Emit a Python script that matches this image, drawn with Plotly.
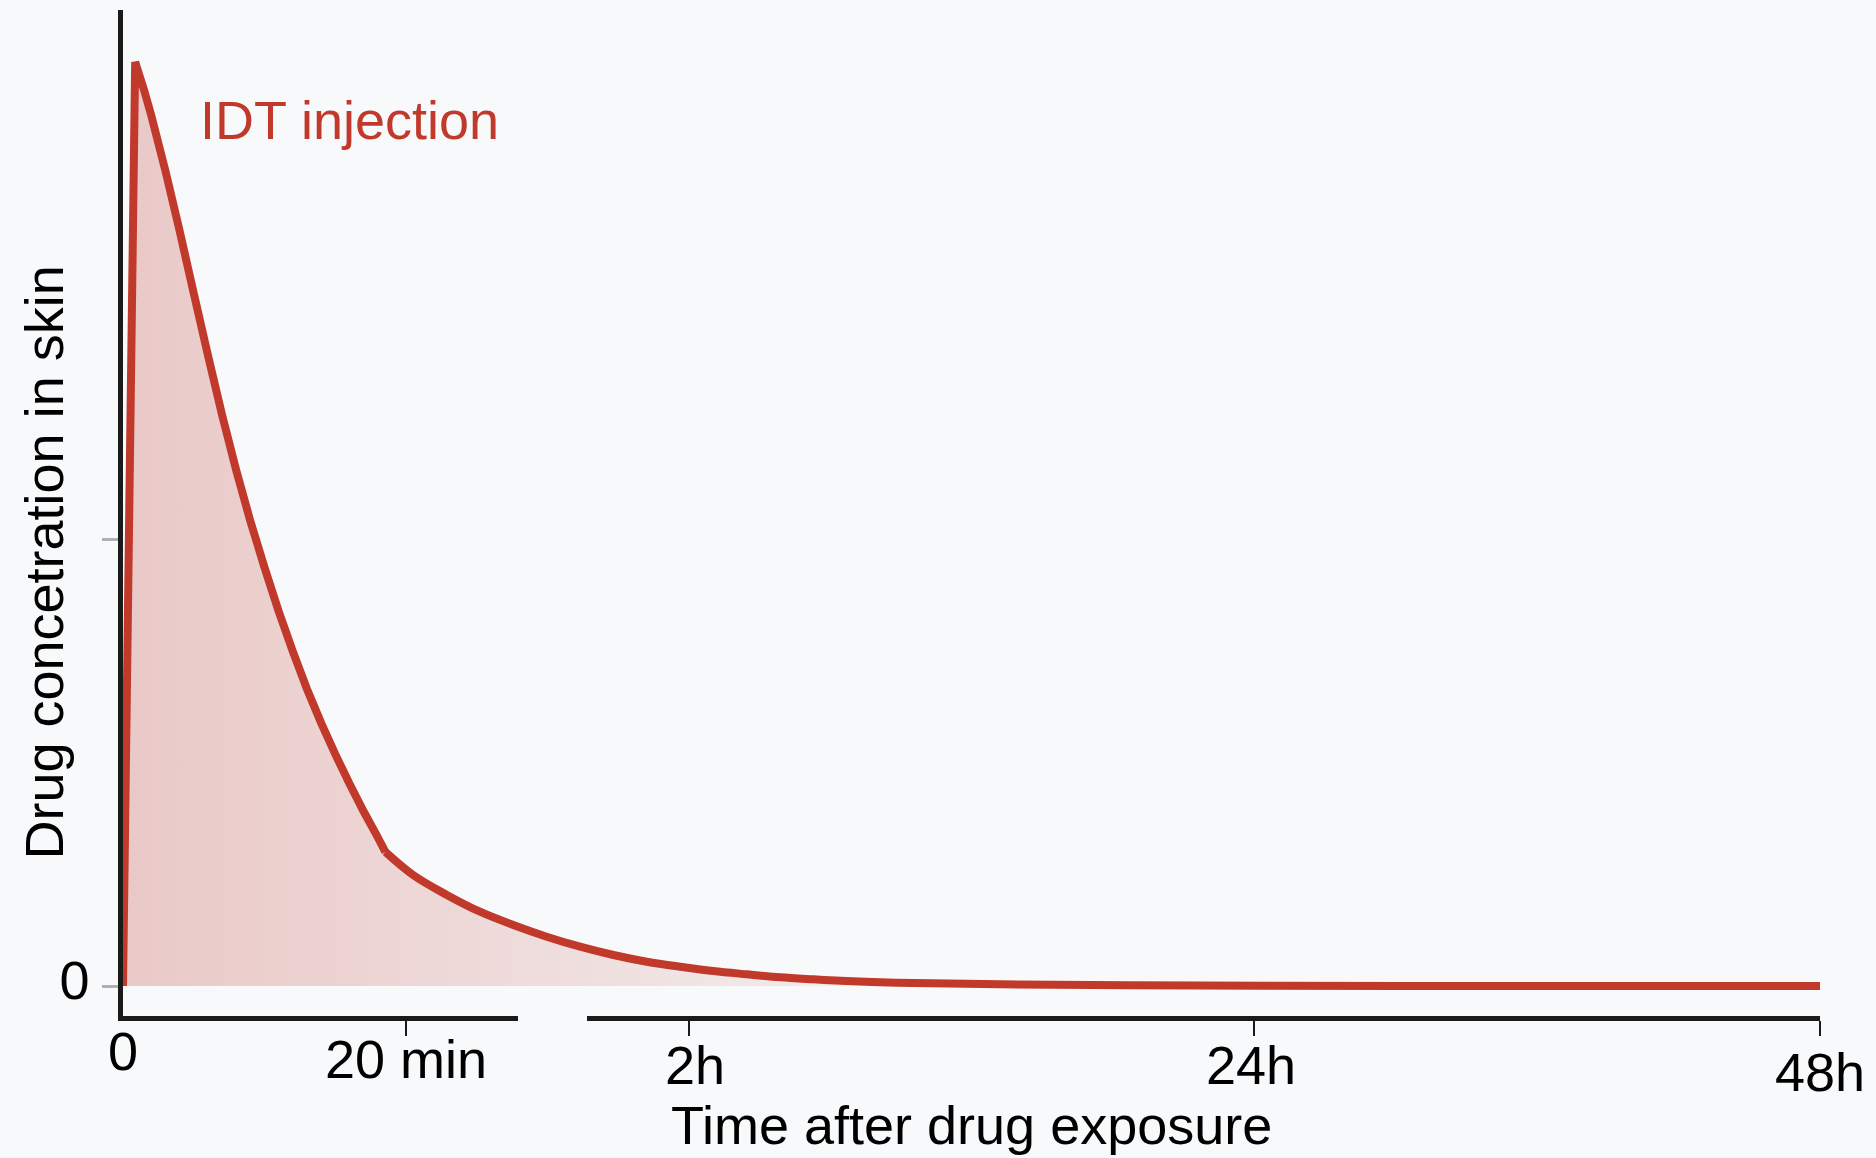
import plotly.graph_objects as go

# position on the broken time axis: one unit per tick step (0, 20 min, 2h, 24h = 4, 48h = 6)
time_pos = [0.0, 0.043, 0.075, 0.10, 0.15, 0.20, 0.25, 0.30, 0.35, 0.40,
            0.45, 0.50, 0.55, 0.60, 0.65, 0.70, 0.75, 0.80, 0.85, 0.90,
            0.928,
            1.027, 1.145, 1.262, 1.380, 1.498, 1.616, 1.734, 1.852, 1.970, 2.087,
            2.205, 2.323, 2.441, 2.559, 2.736, 3.101, 3.808, 4.516, 6.0]
conc = [0.0, 103.5, 100.3, 97.5, 91.3, 84.6, 77.6, 70.7, 64.0, 57.8,
        52.1, 46.9, 42.0, 37.5, 33.3, 29.5, 26.0, 22.7, 19.6, 16.7,
        15.0,
        12.4, 10.2, 8.32, 6.83, 5.52, 4.40, 3.47, 2.72, 2.16, 1.68,
        1.31, 0.97, 0.75, 0.56, 0.37, 0.19, 0.06, 0.0, 0.0]
KINK = 20  # index where the fast decay turns into the slow tail

tick_pos = [0, 1, 2, 4, 6]
tick_labels = ["0", "20 min", "2h", "24h", "48h"]
y_tick_vals = [0, 50]
y_tick_text = ["0", ""]

curve_name = "IDT injection"
x_title = "Time after drug exposure"
y_title = "Drug concetration in skin"

RED = "#c0392b"
AXIS = "#1a1a1a"
BG = "#f7f9fb"
FONT = "Liberation Sans, Arial, sans-serif"

X_MAX = 6
BREAK = (1.395, 1.639)
label_drop = [35, 43, 49, 49, 56]
label_nudge = [0, 0, 6, -3, 0]

fig = go.Figure()
# shaded area under the curve
fig.add_trace(go.Scatter(
    x=time_pos, y=conc,
    mode="lines",
    line=dict(width=0, color=RED),
    fill="tozeroy",
    fillgradient=dict(
        type="horizontal", start=0, stop=3.65,
        colorscale=[[0, "rgba(192,57,43,0.25)"], [1, "rgba(192,57,43,0)"]],
    ),
    hoverinfo="skip", showlegend=False,
))
# injection spike and fast decay
fig.add_trace(go.Scatter(
    x=time_pos[:KINK + 1], y=conc[:KINK + 1],
    mode="lines", name=curve_name,
    line=dict(color=RED, width=8, simplify=False),
    hoverinfo="skip", showlegend=False,
))
# slow tail
fig.add_trace(go.Scatter(
    x=time_pos[KINK:], y=conc[KINK:],
    mode="lines", name=curve_name,
    line=dict(color=RED, width=8, shape="spline", smoothing=1.0, simplify=False),
    hoverinfo="skip", showlegend=False,
))
# empty traces so the two pieces of the broken x axis get drawn
for ax in ["x2", "x3"]:
    fig.add_trace(go.Scatter(x=[], y=[], xaxis=ax, yaxis="y",
                             showlegend=False, hoverinfo="skip"))

x_part = dict(
    showline=True, linecolor=AXIS, linewidth=4.5,
    ticks="outside", ticklen=15, tickwidth=2, tickcolor=AXIS,
    showticklabels=False, showgrid=False, zeroline=False,
    anchor="y", fixedrange=True,
)

fig.update_layout(
    width=1876, height=1158,
    paper_bgcolor=BG, plot_bgcolor="rgba(0,0,0,0)",
    font=dict(family=FONT, size=54, color="black"),
    margin=dict(l=123, r=56, t=10, b=142),
    xaxis=dict(range=[0, X_MAX], domain=[0, 1], visible=False, fixedrange=True),
    xaxis2=dict(x_part, domain=[0, BREAK[0] / X_MAX], range=[0, BREAK[0]],
                tickvals=tick_pos[1:2]),
    xaxis3=dict(x_part, domain=[BREAK[1] / X_MAX, 1], range=[BREAK[1], X_MAX],
                tickvals=tick_pos[2:]),
    yaxis=dict(
        range=[-3.36, 109.32], showline=True, linecolor=AXIS, linewidth=4.5,
        ticks="outside", ticklen=16, tickwidth=3, tickcolor="#b0b0b0",
        tickvals=y_tick_vals, ticktext=y_tick_text,
        ticklabelstandoff=2, ticklabelshift=-6,
        showgrid=False, zeroline=False, fixedrange=True,
    ),
)

for pos, text, drop, nudge in zip(tick_pos, tick_labels, label_drop, label_nudge):
    fig.add_annotation(x=pos, xref="x", y=0, yref="paper", text=text,
                       showarrow=False, yanchor="middle",
                       yshift=-drop, xshift=nudge)

fig.add_annotation(x=0.2645, y=97.0, xref="x", yref="y", text=curve_name,
                   showarrow=False, xanchor="left", yanchor="middle",
                   font=dict(color=RED, size=54))
fig.add_annotation(x=0.5, y=0, xref="paper", yref="paper", text=x_title,
                   showarrow=False, yanchor="middle", yshift=-109)
fig.add_annotation(x=0, y=0.4507, xref="paper", yref="paper", text=y_title,
                   showarrow=False, textangle=-90, xanchor="center",
                   yanchor="middle", xshift=-79)

fig.write_html("out.html", config={"displayModeBar": False},
               post_script="document.body.style.margin='0';"
                           "document.body.style.overflow='hidden';")
